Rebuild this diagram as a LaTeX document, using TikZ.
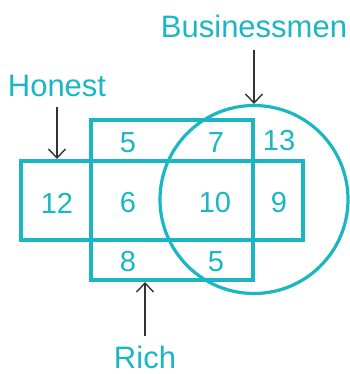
\documentclass[tikz,border=0pt]{standalone}
\usepackage{fontspec}
\setmainfont{Liberation Sans}
\usetikzlibrary{arrows.meta}
\definecolor{teal}{HTML}{1AB7C3}
\definecolor{arr}{HTML}{333333}
\tikzset{
  shapeline/.style={draw=teal, line width=3.2pt},
  num/.style={text=teal, font=\fontsize{29}{29}\selectfont, inner sep=0pt, anchor=center},
  lbl/.style={text=teal, font=\fontsize{31}{31}\selectfont, inner sep=0pt},
  pointer/.style={draw=arr, line width=2.6pt, -{Straight Barb[length=9pt,width=17pt,line width=1.4pt]}},
}
\begin{document}
\begin{tikzpicture}[x=1pt,y=-1pt]
\useasboundingbox (0,0) rectangle (349,374);
% shapes
\draw[shapeline] (21,161) rectangle (303,240);
\draw[shapeline] (91,120) rectangle (253,280);
\draw[shapeline] (254,199.5) circle[radius=94];
% numbers
\node[num] (n5a) at (128,143) {5};
\node[num] (n7) at (216,143) {7};
\node[num] (n13) at (279,141) {13};
\node[num] (n12) at (57,203) {12};
\node[num] (n6) at (128,203) {6};
\node[num] (n10) at (215,203) {10};
\node[num] (n9) at (279,203) {9};
\node[num] (n8) at (128,262) {8};
\node[num] (n5b) at (216,262) {5};
% labels
\node[lbl, anchor=base] (bus) at (254,38) {Businessmen};
\node[lbl, anchor=base] (hon) at (57,97) {Honest};
\node[lbl, anchor=base] (rich) at (145,368) {Rich};
% pointer ends
\coordinate (busS) at (254,50);
\coordinate (busE) at (254,104);
\coordinate (honS) at (57,107);
\coordinate (honE) at (57,159);
\coordinate (richS) at (145,336);
\coordinate (richE) at (145,282);
\draw[pointer] (busS) -- (busE);
\draw[pointer] (honS) -- (honE);
\draw[pointer] (richS) -- (richE);
\end{tikzpicture}
\end{document}
